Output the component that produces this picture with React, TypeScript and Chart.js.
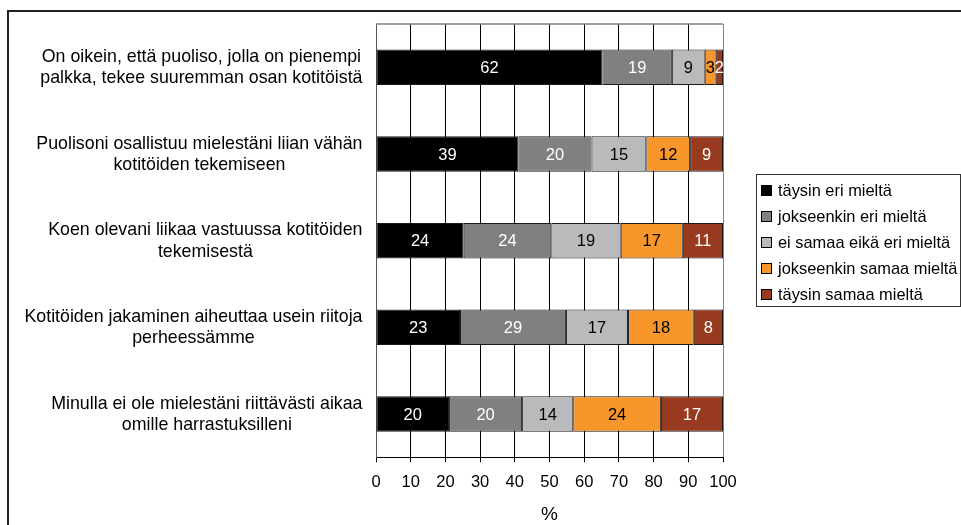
import React, { useEffect, useRef } from "react";
import { Chart, registerables } from "chart.js";

Chart.register(...registerables);

const FONT = "'Liberation Sans', Arial, Helvetica, sans-serif";

const categories: string[][] = [
  ["On oikein, että puoliso, jolla on pienempi", "palkka, tekee suuremman osan kotitöistä"],
  ["Puolisoni osallistuu mielestäni liian vähän", "kotitöiden tekemiseen"],
  ["Koen olevani liikaa vastuussa kotitöiden", "tekemisestä"],
  ["Kotitöiden jakaminen aiheuttaa usein riitoja", "perheessämme"],
  ["Minulla ei ole mielestäni riittävästi aikaa", "omille harrastuksilleni"],
];

const seriesNames = [
  "täysin eri mieltä",
  "jokseenkin eri mieltä",
  "ei samaa eikä eri mieltä",
  "jokseenkin samaa mieltä",
  "täysin samaa mieltä",
];

const taysinEri = [62, 39, 24, 23, 20];
const jokseenkinEri = [19, 20, 24, 29, 20];
const eiSamaaEikaEri = [9, 15, 19, 17, 14];
const jokseenkinSamaa = [3, 12, 17, 18, 24];
const taysinSamaa = [2, 9, 11, 8, 17];

const seriesColors = ["#000000", "#808083", "#b9babc", "#f7962b", "#983a1f"];
const labelColors = ["#ffffff", "#ffffff", "#000000", "#000000", "#ffffff"];

const xTickMin = 0;
const xTickMax = 100;
const xTickStep = 10;
const xTitle = "%";

const allSeries = [taysinEri, jokseenkinEri, eiSamaaEikaEri, jokseenkinSamaa, taysinSamaa];

export default function App() {
  const ref = useRef<HTMLCanvasElement | null>(null);

  useEffect(() => {
    if (!ref.current) return;
    const totals = categories.map((_, i) => allSeries.reduce((s, arr) => s + arr[i], 0));

    const valueLabels = {
      id: "valueLabels",
      afterDatasetsDraw(chart: any) {
        const ctx = chart.ctx;
        ctx.save();
        ctx.font = `16.5px ${FONT}`;
        ctx.textAlign = "center";
        ctx.textBaseline = "middle";
        chart.data.datasets.forEach((ds: any, di: number) => {
          const meta = chart.getDatasetMeta(di);
          meta.data.forEach((el: any, i: number) => {
            const cx = (el.x + el.base) / 2;
            ctx.fillStyle = labelColors[di];
            ctx.fillText(String(ds.rawValues[i]), cx, el.y + 1);
          });
        });
        const a = chart.chartArea;
        ctx.strokeStyle = "#808080";
        ctx.lineWidth = 1.5;
        ctx.beginPath();
        ctx.moveTo(a.left, a.top);
        ctx.lineTo(a.right, a.top);
        ctx.stroke();
        ctx.restore();
      },
    };

    const catLabels = {
      id: "catLabels",
      afterDraw(chart: any) {
        const ctx = chart.ctx;
        const yScale = chart.scales.y;
        const right = chart.chartArea.left - 13.5;
        ctx.save();
        ctx.font = `17.8px ${FONT}`;
        ctx.fillStyle = "#000";
        ctx.textAlign = "center";
        ctx.textBaseline = "middle";
        const lh = 21.5;
        categories.forEach((lines, i) => {
          const y = yScale.getPixelForTick(i);
          const w = Math.max(...lines.map((l) => ctx.measureText(l).width));
          const cx = right - w / 2;
          const y0 = y - ((lines.length - 1) * lh) / 2 + 0.5;
          lines.forEach((l, k) => ctx.fillText(l, cx, y0 + k * lh));
        });
        ctx.restore();
      },
    };

    const chart = new Chart(ref.current, {
      type: "bar",
      data: {
        labels: categories.map((c) => c.join(" ")),
        datasets: allSeries.map((arr, di) => ({
          label: seriesNames[di],
          data: arr.map((v, i) => (v / totals[i]) * 100),
          rawValues: arr,
          backgroundColor: seriesColors[di],
          borderColor: "#1a1a1a",
          borderWidth: 1,
          borderSkipped: false,
          barPercentage: 0.41,
          categoryPercentage: 1,
        })) as any,
      },
      options: {
        indexAxis: "y",
        animation: false,
        responsive: false,
        maintainAspectRatio: false,
        layout: { padding: { left: 376, right: 238, top: 24, bottom: 0 } },
        plugins: {
          legend: { display: false },
          tooltip: { enabled: false },
        },
        scales: {
          x: {
            stacked: true,
            min: xTickMin,
            max: xTickMax,
            ticks: {
              stepSize: xTickStep,
              color: "#000",
              padding: 10.5,
              font: { family: FONT, size: 16.5, lineHeight: 1.2 },
            },
            grid: {
              color: (c: any) => (c.tick && c.tick.value === xTickMax ? "#808080" : "#000"),
              lineWidth: 1,
              drawTicks: true,
              tickLength: 5,
              tickColor: "#000",
            },
            border: { display: true, color: "#000", width: 1 },
            title: {
              display: true,
              text: xTitle,
              color: "#000",
              font: { family: FONT, size: 19, lineHeight: 1.1 },
              padding: { top: 1, bottom: 0 },
            },
          },
          y: {
            stacked: true,
            ticks: { display: false },
            grid: { display: false, drawTicks: false },
            border: { display: true, color: "#555", width: 1 },
          },
        },
      },
      plugins: [valueLabels, catLabels],
    });
    return () => chart.destroy();
  }, []);

  return (
    <div style={{ position: "fixed", left: 0, top: 0, width: 961, height: 525, overflow: "hidden", background: "#fff" }}>
      <div
        style={{
          position: "absolute",
          left: 7,
          top: 10,
          width: 1000,
          height: 600,
          borderTop: "2px solid #222",
          borderLeft: "2px solid #222",
        }}
      />
      <canvas ref={ref} width={961} height={525} style={{ position: "absolute", left: 0, top: 0, width: 961, height: 525 }} />
      <div
        style={{
          position: "absolute",
          left: 756,
          top: 174,
          width: 205,
          height: 133,
          border: "1px solid #333",
          boxSizing: "border-box",
          paddingTop: 2,
          paddingLeft: 4,
          fontFamily: FONT,
          fontSize: 16.4,
          color: "#000",
          overflow: "hidden",
        }}
      >
        {seriesNames.map((n, i) => (
          <div key={n} style={{ display: "flex", alignItems: "center", height: 26.2, whiteSpace: "nowrap" }}>
            <span
              style={{
                display: "inline-block",
                width: 9,
                height: 9,
                border: "1px solid #000",
                background: seriesColors[i],
                marginRight: 6,
                flex: "none",
              }}
            />
            <span>{n}</span>
          </div>
        ))}
      </div>
    </div>
  );
}
